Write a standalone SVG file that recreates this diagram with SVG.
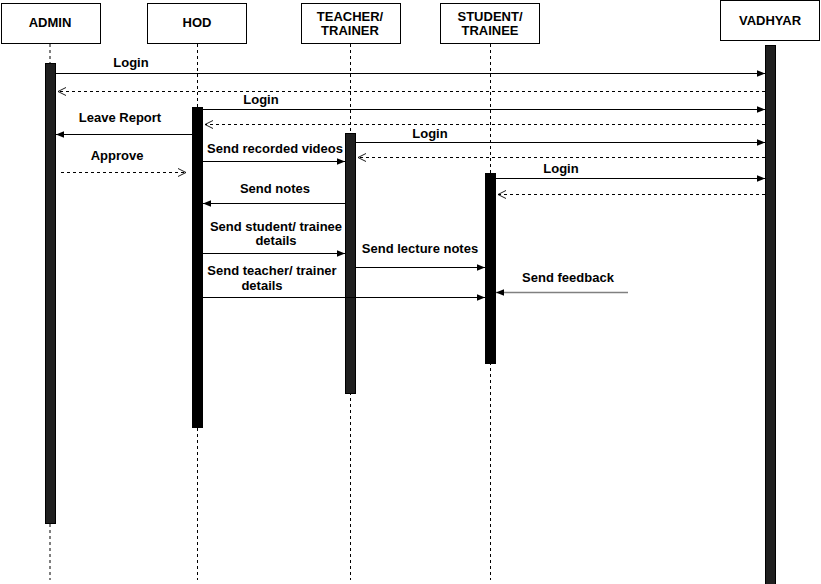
<svg xmlns="http://www.w3.org/2000/svg" width="821" height="584" viewBox="0 0 821 584">
<style>
.box{fill:#fff;stroke:#000;stroke-width:1}
.life{stroke:#000;stroke-width:1;stroke-dasharray:3,3;fill:none}
.act{fill:#1f1f1f;stroke:#000;stroke-width:1}
.actb{fill:#000;stroke:#000;stroke-width:1}
.msg{stroke:#000;stroke-width:1;fill:none;marker-end:url(#filled)}
.ret{stroke:#000;stroke-width:1;fill:none;stroke-dasharray:3,3;marker-end:url(#open)}
.t{font-family:"Liberation Sans",Arial,sans-serif;font-size:13px;font-weight:bold;fill:#000;text-anchor:middle}
.h{font-family:"Liberation Sans",Arial,sans-serif;font-size:13px;font-weight:bold;fill:#000;text-anchor:middle}
</style>
<defs>
<marker id="filled" viewBox="0 0 10 10" refX="10" refY="5" markerWidth="8" markerHeight="8" markerUnits="userSpaceOnUse" orient="auto">
<path d="M0,1 L10,5 L0,9 Z" fill="#000"/>
</marker>
<marker id="open" viewBox="0 0 10 10" refX="9" refY="5" markerWidth="9" markerHeight="9" markerUnits="userSpaceOnUse" orient="auto">
<path d="M0,0.5 L9,5 L0,9.5" fill="none" stroke="#000" stroke-width="1"/>
</marker>
</defs>
<rect width="821" height="584" fill="#fff"/>

<g id="admin">
<rect class="box" x="1.5" y="3.5" width="99" height="40"/>
<text class="h" x="50" y="27">ADMIN</text>
<line class="life" x1="50" y1="44" x2="50" y2="580"/>
<rect class="act" x="45.5" y="63.5" width="10" height="460"/>
</g>
<g id="hod">
<rect class="box" x="147.5" y="3.5" width="99" height="40"/>
<text class="h" x="197" y="27">HOD</text>
<line class="life" x1="197.5" y1="44" x2="197.5" y2="580"/>
<rect class="actb" x="192.5" y="107.5" width="10" height="320"/>
</g>
<g id="teacher">
<rect class="box" x="301.5" y="3.5" width="99" height="40"/>
<text class="h" x="350" y="21">TEACHER/</text>
<text class="h" x="350" y="35">TRAINER</text>
<line class="life" x1="350.5" y1="44" x2="350.5" y2="580"/>
<rect class="act" x="345.5" y="133.5" width="10" height="260"/>
</g>
<g id="student">
<rect class="box" x="440.5" y="3.5" width="99" height="40"/>
<text class="h" x="490" y="21">STUDENT/</text>
<text class="h" x="490" y="35">TRAINEE</text>
<line class="life" x1="490.5" y1="44" x2="490.5" y2="580"/>
<rect class="actb" x="485.5" y="173.5" width="10" height="190"/>
</g>
<g id="vadhyar">
<rect class="box" x="720.5" y="0.5" width="99" height="40"/>
<text class="h" x="770" y="25">VADHYAR</text>
<rect class="act" x="765.5" y="45.5" width="10" height="540"/>
</g>

<g id="connectors">
<line class="msg" x1="56" y1="73.5" x2="765" y2="73.5"/>
<text class="t" x="131" y="67">Login</text>
<line class="ret" x1="765" y1="91.5" x2="58" y2="91.5"/>

<line class="msg" x1="203" y1="109.5" x2="765" y2="109.5"/>
<text class="t" x="261" y="104">Login</text>
<line class="ret" x1="765" y1="124.5" x2="205" y2="124.5"/>

<line class="msg" x1="192" y1="134.5" x2="56" y2="134.5"/>
<text class="t" x="120" y="122">Leave Report</text>

<line class="msg" x1="356" y1="142.5" x2="765" y2="142.5"/>
<text class="t" x="430" y="138">Login</text>
<line class="ret" x1="765" y1="157.5" x2="358" y2="157.5"/>

<line class="msg" x1="203" y1="161.5" x2="345" y2="161.5"/>
<text class="t" x="275" y="153">Send recorded videos</text>

<line class="ret" x1="61" y1="172.5" x2="186" y2="172.5"/>
<text class="t" x="117" y="160">Approve</text>

<line class="msg" x1="496" y1="178.5" x2="765" y2="178.5"/>
<text class="t" x="561" y="173">Login</text>
<line class="ret" x1="765" y1="194.5" x2="498" y2="194.5"/>

<line class="msg" x1="345" y1="203.5" x2="203" y2="203.5"/>
<text class="t" x="275" y="193">Send notes</text>

<line class="msg" x1="203" y1="253.5" x2="345" y2="253.5"/>
<text class="t" x="276" y="231">Send student/ trainee</text>
<text class="t" x="276" y="245">details</text>

<line class="msg" x1="356" y1="267.5" x2="485" y2="267.5"/>
<text class="t" x="420" y="253">Send lecture notes</text>

<line class="msg" x1="203" y1="297.5" x2="485" y2="297.5"/>
<text class="t" x="272" y="275">Send teacher/ trainer</text>
<text class="t" x="262" y="290">details</text>

<line stroke="#808080" stroke-width="1.5" fill="none" marker-end="url(#filled)" x1="628" y1="292.5" x2="496" y2="292.5"/>
<text class="t" x="568" y="282">Send feedback</text>
</g>
</svg>
